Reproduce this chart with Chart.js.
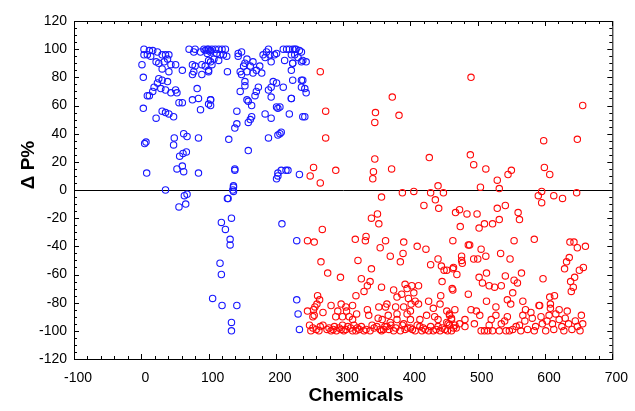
<!DOCTYPE html>
<html>
<head>
<meta charset="utf-8">
<script src="https://cdn.jsdelivr.net/npm/chart.js@4/dist/chart.umd.min.js"></script>
<style>
  html, body { margin: 0; padding: 0; background: #fff; }
  canvas { display: block; }
</style>
</head>
<body>
<canvas id="chart" width="635" height="411"></canvas>
<script>
// chemicals with a positive effect (blue) and a negative effect (red)
const bluePoints = [
  [4,100],[12,99],[17,99],[24,98],[4,96],[9,96],[14,95],[31,96],[36,96],[41,96],[39,93],[22,91],[26,90],[34,91],
  [44,89],[51,89],[1,89],[31,86],[41,84],[61,85],[3,80],[26,79],[31,78],[39,77],[24,76],[19,73],[29,72],[36,71],
  [51,71],[17,70],[12,67],[9,67],[44,69],[53,69],[56,62],[61,62],[3,58],[31,56],[36,55],[41,54],[48,52],[22,51],
  [7,34],[5,33],[49,37],[63,40],[68,38],[48,32],[67,27],[62,26],[57,24],[61,17],[53,15],[63,13],[8,12],[85,12],
  [36,0],[68,-3],[64,-4],[66,-10],[56,-12],
  [71,100],[80,100],[93,100],[98,100],[78,98],[88,98],[103,99],[76,89],[80,88],[90,89],[103,91],[100,85],[78,84],
  [76,82],[90,82],[83,72],[103,64],[76,64],[85,65],[100,61],[88,57],[85,37],
  [95,99],[100,100],[105,100],[110,100],[115,100],[120,100],[125,100],[98,97],[103,98],[112,97],[117,96],[122,96],
  [127,95],[100,92],[108,93],[115,92],[105,89],[95,88],[100,84],[128,84],[144,97],[149,98],[144,95],[157,93],
  [154,90],[166,91],[152,88],[162,88],[157,84],[166,83],[171,85],[176,88],[179,83],[181,96],[186,98],[189,100],
  [184,94],[191,96],[193,91],[198,96],[201,97],[211,100],[216,100],[220,100],[225,100],[230,100],[235,99],[213,92],
  [225,90],[233,94],[238,91],[223,85],[225,78],[238,78],[147,84],[149,82],[154,77],[154,74],[147,70],[174,73],
  [171,70],[169,67],[196,77],[201,76],[193,73],[189,71],[211,73],[193,66],[223,65],[238,73],[206,59],[201,59],
  [203,58],[220,54],[240,52],[184,54],[193,51],[157,64],[159,63],[164,60],[103,64],[103,60],[142,56],[142,47],
  [164,52],[162,50],[159,48],[139,44],[189,37],[206,40],[203,39],[208,41],[130,36],[159,28],[139,15],[139,14],
  [203,12],[208,14],[215,14],[203,10],[201,8],[235,11],[137,3],[136,0],[128,-6],
  [228,100],[238,98],[223,96],[228,96],[240,92],[245,91],[225,90],[240,78],[243,72],[245,69],[223,65],[243,52],[218,14],
  [137,2],[137,-1],[129,-6],[134,-20],[119,-23],[125,-28],[132,-35],[132,-39],[117,-52],[119,-60],[106,-77],
  [120,-82],[142,-82],[134,-94],[134,-100],[209,-24],[231,-36],[231,-78],[233,-88],[235,-99]
];

const redPoints = [
  [266,84],[274,56],[274,37],[256,16],[251,10],[289,14],[266,5],[373,66],[348,55],[347,48],[383,53],[347,22],
  [345,13],[344,8],[372,15],[428,23],[441,3],[388,-2],[405,-1],[430,-2],[449,-2],[357,-5],[420,-11],[437,-7],
  [442,-13],[351,-17],[342,-20],[353,-24],[467,-16],[269,-28],[247,-36],[257,-37],[318,-35],[333,-36],[334,-33],
  [363,-36],[355,-41],[390,-37],[410,-40],[423,-42],[463,-36],[370,-47],[389,-45],[385,-51],[267,-51],[322,-50],
  [277,-59],[296,-62],[342,-56],[441,-49],[430,-53],[446,-54],[450,-57],[447,-65],[463,-56],[327,-63],[340,-65],
  [336,-68],
  [357,-69],[331,-72],[319,-75],[375,-71],[380,-76],[387,-74],[392,-67],[402,-68],[412,-68],[395,-70],[405,-73],
  [397,-77],[407,-79],[412,-81],[462,-70],[445,-75],[262,-75],[265,-78],[261,-81],[258,-83],[256,-85],[257,-89],
  [282,-82],[247,-86],[255,-90],[270,-87],[297,-81],[304,-83],[314,-82],[305,-86],[320,-88],[292,-86],[289,-90],
  [299,-90],[309,-90],[314,-92],[336,-85],[338,-89],[353,-83],[365,-81],[363,-83],[378,-83],[380,-88],[390,-83],
  [401,-81],[400,-86],[395,-88],[367,-89],[358,-92],[352,-91],[370,-94],[380,-92],[390,-95],[400,-92],[414,-92],
  [424,-89],[434,-84],[444,-81],[427,-79],[436,-90],[441,-92],[458,-88],[461,-91],[466,-85],[454,-94],
  [250,-96],[252,-100],[260,-99],[270,-96],[276,-99],[282,-100],[287,-97],[294,-98],[299,-96],[304,-99],[311,-98],
  [319,-100],[324,-99],[331,-100],[346,-98],[350,-97],[360,-99],[365,-97],[375,-100],[392,-99],[400,-98],[407,-100],
  [414,-97],[422,-99],[427,-100],[434,-100],[441,-97],[451,-99],[461,-100],[468,-98],
  [255,-98],[264,-100],[266,-97],[279,-98],[285,-99],[290,-100],[297,-99],[301,-100],[307,-97],[314,-100],[316,-96],
  [321,-98],[327,-97],[334,-99],[340,-100],[343,-96],[355,-99],[357,-100],[362,-97],[368,-99],[371,-96],[378,-98],
  [385,-100],[388,-96],[396,-98],[403,-99],[410,-96],[417,-100],[419,-98],[430,-97],[438,-99],[444,-100],[447,-98],
  [455,-100],[458,-96],[464,-98],
  [490,80],[656,60],[489,25],[494,18],[512,15],[598,35],[648,36],[599,16],[607,11],[545,11],[550,14],[529,7],
  [504,2],[532,1],[595,-1],[590,-4],[595,-9],[613,-4],[626,-6],[647,-2],[473,-14],[484,-17],[499,-17],[529,-13],
  [541,-11],[560,-16],[562,-21],[474,-26],[502,-27],[510,-24],[522,-24],[532,-21],[486,-39],[488,-39],[505,-42],
  [554,-36],[584,-35],[637,-37],[643,-37],[648,-41],[660,-40],[476,-47],[476,-50],[477,-52],[494,-49],[500,-49],
  [512,-47],[534,-45],[548,-49],[636,-48],[632,-51],[629,-56],[651,-57],[657,-55],[464,-55],[469,-60],[513,-59],
  [502,-62],[541,-61],[554,-64],[559,-66],[565,-59],[507,-66],[517,-68],[525,-69],[535,-68],[597,-63],[638,-65],
  [644,-62],[642,-69],[639,-72],[552,-73],[463,-71],[486,-74],[513,-79],[527,-83],[544,-78],[549,-81],[567,-79],
  [591,-82],[607,-76],[614,-75],[608,-81],[454,-57],
  [454,-86],[458,-89],[461,-92],[456,-95],[466,-96],[473,-95],[481,-97],[481,-92],[490,-85],[498,-86],[503,-89],
  [495,-95],[505,-100],[510,-100],[515,-100],[517,-96],[520,-92],[522,-100],[527,-89],[532,-100],[535,-95],
  [540,-93],[542,-100],[544,-90],[547,-100],[552,-99],[557,-97],[562,-96],[564,-100],[567,-89],[571,-85],[570,-93],
  [574,-99],[579,-87],[581,-91],[584,-100],[586,-97],[592,-82],[594,-90],[596,-95],[601,-100],[603,-93],[606,-89],
  [608,-84],[611,-95],[613,-99],[616,-88],[621,-92],[621,-85],[625,-97],[628,-100],[630,-91],[633,-86],[635,-95],
  [640,-99],[645,-93],[648,-97],[652,-100],[654,-89],[656,-95]
];

const xTicks = [-100, 0, 100, 200, 300, 400, 500, 600, 700];
const yTicks = [-120, -100, -80, -60, -40, -20, 0, 20, 40, 60, 80, 100, 120];

const FONT = '"Liberation Sans", Arial, Helvetica, sans-serif';

// frame, inward ticks on all four sides, axis titles
const framePlugin = {
  id: 'frame',
  afterDraw(chart) {
    const { ctx, chartArea: a, scales } = chart;
    ctx.save();
    ctx.strokeStyle = '#000';
    ctx.lineWidth = 1;
    ctx.strokeRect(a.left + 0.5, a.top + 0.5, a.right - a.left, a.bottom - a.top);

    ctx.beginPath();
    for (let v = -100; v <= 700; v += 20) {
      const x = Math.round(scales.x.getPixelForValue(v)) + 0.5;
      const len = v % 100 === 0 ? 5 : 3;
      ctx.moveTo(x, a.bottom); ctx.lineTo(x, a.bottom - len);
      ctx.moveTo(x, a.top); ctx.lineTo(x, a.top + len);
    }
    for (let v = -120; v <= 120; v += 5) {
      const y = Math.round(scales.y.getPixelForValue(v)) + 0.5;
      const len = v % 20 === 0 ? 5 : 3;
      ctx.moveTo(a.left, y); ctx.lineTo(a.left + len, y);
      ctx.moveTo(a.right, y); ctx.lineTo(a.right - len, y);
    }
    ctx.stroke();

    ctx.fillStyle = '#000';
    ctx.font = 'bold 19px ' + FONT;
    ctx.textAlign = 'center';
    ctx.textBaseline = 'middle';
    ctx.fillText('Chemicals', 356, 396);
    ctx.translate(29, 165);
    ctx.rotate(-Math.PI / 2);
    ctx.fillText('Δ P%', 0, 0);
    ctx.restore();
  },
};

const ctx = document.getElementById('chart').getContext('2d');
// eslint-disable-next-line no-unused-vars
const scatter = new Chart(ctx, {
  type: 'scatter',
  data: {
    datasets: [{
      data: bluePoints.map(([x, y]) => ({ x, y })),
      borderColor: 'rgb(25,25,255)',
      backgroundColor: 'transparent',
      pointRadius: 3.2,
      borderWidth: 1.1,
    }, {
      data: redPoints.map(([x, y]) => ({ x, y })),
      borderColor: 'rgb(255,10,10)',
      backgroundColor: 'transparent',
      pointRadius: 3.2,
      borderWidth: 1.1,
    }],
  },
  options: {
    responsive: false,
    animation: false,
    devicePixelRatio: 1,
    layout: { padding: { top: 21, right: 17, left: 0, bottom: 0 } },
    plugins: { legend: { display: false }, tooltip: { enabled: false } },
    scales: {
      x: {
        type: 'linear',
        min: -100,
        max: 700,
        afterBuildTicks: (s) => { s.ticks = xTicks.map((value) => ({ value })); },
        afterFit: (s) => { s.height = 52; },
        grid: { display: false, drawTicks: false },
        border: { display: true, color: '#000' },
        ticks: {
          color: '#000', padding: 11, labelOffset: 4, maxRotation: 0, font: { family: FONT, size: 14 },
        },
      },
      y: {
        type: 'linear',
        min: -120,
        max: 120,
        afterBuildTicks: (s) => { s.ticks = yTicks.map((value) => ({ value })); },
        afterFit: (s) => { s.width = 74; },
        grid: {
          drawTicks: false,
          color: (c) => (c.tick && c.tick.value === 0 ? '#000' : 'transparent'),
          lineWidth: 1,
        },
        border: { display: true, color: '#000' },
        ticks: { color: '#000', padding: 7, font: { family: FONT, size: 14 } },
      },
    },
  },
  plugins: [framePlugin],
});
</script>
</body>
</html>
